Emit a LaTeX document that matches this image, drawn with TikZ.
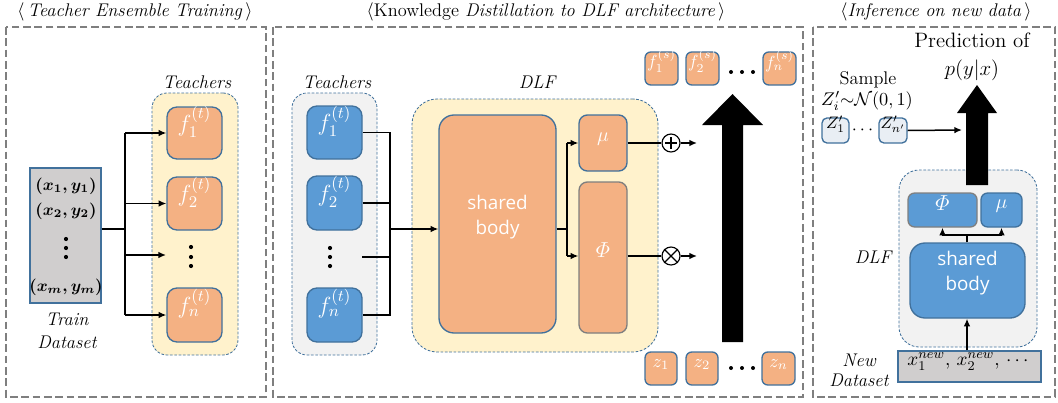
\RequirePackage{fix-cm}
\documentclass[tikz,border=0pt]{standalone}
\usepackage{amsmath}
\usepackage{fontspec}
\newfontfamily\sbfont{Open Sans}
\usetikzlibrary{arrows.meta,fit,calc}

\definecolor{boxorange}{HTML}{F4B183}
\definecolor{boxblue}{HTML}{5B9BD5}
\definecolor{edgeblue}{HTML}{41719C}
\definecolor{edgegray}{HTML}{7F7F7F}
\definecolor{groupyellow}{HTML}{FFF2CC}
\definecolor{groupgray}{HTML}{F2F2F2}
\definecolor{datagray}{HTML}{D0CECE}
\definecolor{panelgray}{HTML}{7F7F7F}
\definecolor{zfill}{HTML}{E9EEF4}

% lower a math label a little inside its box
\newcommand{\lowered}[2]{\raisebox{-#1}{#2}}

\begin{document}
\begin{tikzpicture}[x=0.6pt,y=-0.6pt,
  panel/.style={draw=panelgray, line width=1.4pt, dash pattern=on 4.6pt off 2.2pt},
  group/.style={draw=edgeblue, line width=0.5pt, dash pattern=on 1.6pt off 1pt,
                rounded corners=9pt, inner sep=0pt},
  basebox/.style={draw=edgeblue, line width=0.8pt, inner sep=0pt, text=white},
  obox/.style={basebox, fill=boxorange, rounded corners=6pt},
  bbox/.style={basebox, fill=boxblue, rounded corners=6pt},
  sbox/.style={basebox, fill=boxorange, rounded corners=3.5pt},
  title/.style={font=\fontsize{11}{13}\selectfont, inner sep=0pt},
  lbl/.style={font=\itshape\fontsize{11}{13}\selectfont, align=center},
  fbig/.style={font=\fontsize{14}{16}\selectfont},
  fsmall/.style={font=\fontsize{10.5}{12}\selectfont},
  body/.style={font=\sbfont\fontsize{11.3}{15}\selectfont, align=center},
  link/.style={line width=0.9pt},
  arr/.style={link, -{Latex[length=4.6pt,width=4pt]}},
  opcirc/.style={circle, draw, line width=0.7pt, minimum size=10.8pt, inner sep=0pt, fill=white}
]
\useasboundingbox (0,0) rectangle (1058,402);

% ---------- panel frames and titles ----------
\draw[panel] (6,27) rectangle (266,397);
\draw[panel] (273,27) rectangle (803,397);
\draw[panel] (813,27) rectangle (1055,397);

\node[title] (title1) at (135,12) {$\langle$\,\textit{Teacher Ensemble Training}\,$\rangle$};
\node[title] (title2) at (546,12) {$\langle$Knowledge \textit{Distillation to DLF architecture}\,$\rangle$};
\node[title] (title3) at (936,12) {$\langle$\textit{Inference on new data}\,$\rangle$};

% ---------- panel 1: teacher ensemble training ----------
\node[draw=edgeblue, fill=datagray, line width=0.8pt, inner sep=0pt, fit={(30,168)(101,303)}] (ds) {};
\node[font=\fontsize{10}{12}\selectfont\boldmath] (row1) at (66,186) {$(x_1,y_1)$};
\node[font=\fontsize{10}{12}\selectfont\boldmath] (row2) at (66,211) {$(x_2,y_2)$};
\node[font=\fontsize{10}{12}\selectfont\boldmath] (rowm) at (66,287) {$(x_m,y_m)$};
\foreach \yy in {239,248,257} \fill (66,\yy) circle (2.1);
\node[lbl, font=\itshape\fontsize{11}{13.5}\selectfont] (trainlbl) at (67,331) {Train\\Dataset};

\node[group, fill=groupyellow, fit={(152,93)(238,355)}] (grp1) {};
\node[lbl] (teach1) at (197,82) {Teachers};
\node[obox, fbig, fit={(167,107)(222,159)}] (a1) {\lowered{1.5pt}{$f_1^{(t)}$}};
\node[obox, fbig, fit={(167,177)(222,230)}] (a2) {\lowered{1.5pt}{$f_2^{(t)}$}};
\node[obox, fbig, fit={(167,288)(222,342)}] (an) {\lowered{1.5pt}{$f_n^{(t)}$}};
\foreach \yy in {247,257,266} \fill (191,\yy) circle (2.1);

\coordinate (j1) at (125,229);
\coordinate (adots) at (166,255);
\draw[link] (ds.east |- j1) -- (j1);
\draw[link] (j1 |- a1.west) -- (j1 |- an.west);
\draw[arr] (j1 |- a1.west) -- (a1.west);
\draw[arr] (j1 |- a2.west) -- (a2.west);
\draw[arr] (j1 |- adots) -- (adots);
\draw[arr] (j1 |- an.west) -- (an.west);

% ---------- panel 2: distillation into the DLF ----------
\node[group, fill=groupgray, fit={(292,93)(377,355)}] (grp2) {};
\node[lbl] (teach2) at (337,82) {Teachers};
\node[bbox, fbig, fit={(307,106)(362,159)}] (b1) {\lowered{1.5pt}{$f_1^{(t)}$}};
\node[bbox, fbig, fit={(307,176)(362,230)}] (b2) {\lowered{1.5pt}{$f_2^{(t)}$}};
\node[bbox, fbig, fit={(307,288)(362,342)}] (bn) {\lowered{1.5pt}{$f_n^{(t)}$}};
\foreach \yy in {248,257,266} \fill (330,\yy) circle (2.1);

\node[group, fill=groupyellow, rounded corners=15pt, fit={(412,99)(658,352)}] (dlf) {};
\node[lbl] (dlflbl) at (537,82) {DLF};
\node[obox, body, rounded corners=9pt, fit={(439,115)(556,333)}] (sb) {shared\\body};
\node[obox, font=\fontsize{12}{14}\selectfont, rounded corners=5pt, fit={(579,115)(627,171)}] (mu) {$\mu$};
\node[obox, draw=edgegray, font=\fontsize{13}{15}\selectfont, rounded corners=5pt, fit={(579,182)(627,333)}] (phi) {$\varPhi$};

\coordinate (j2) at (390,229);
\coordinate (bdots) at (362,257);
\draw[link] (b1.east) -- (b1.east -| j2) -- (bn.east -| j2) -- (bn.east);
\draw[link] (b2.east) -- (b2.east -| j2);
\draw[link] (bdots) -- (bdots -| j2);
\draw[arr] (j2) -- (j2 -| sb.west);

\coordinate (j3) at (567,229);
\draw[link] (sb.east |- j3) -- (j3);
\draw[link] (j3 |- mu.west) -- (j3 |- 0,256);
\draw[arr] (j3 |- mu.west) -- (mu.west);
\draw[arr] (j3 |- 0,256) -- (phi.west |- 0,256);

\node[opcirc] (plus) at (671,143) {};
\draw[line width=0.7pt] ($(plus.north)!0.2!(plus.south)$) -- ($(plus.north)!0.8!(plus.south)$);
\draw[line width=0.7pt] ($(plus.west)!0.2!(plus.east)$) -- ($(plus.west)!0.8!(plus.east)$);
\node[opcirc] (times) at (671,256) {};
\draw[line width=0.7pt] (times.north east) -- (times.south west);
\draw[line width=0.7pt] (times.north west) -- (times.south east);

\coordinate (pout) at (697,143);
\coordinate (tout) at (697,256);
\draw[link] (mu.east) -- (plus.west);
\draw[link] (phi.east |- times.west) -- (times.west);
\draw[arr] (plus.east) -- (pout);
\draw[arr] (times.east) -- (tout);

% big upward arrow from the latent samples to the students
\fill (722,342) -- (722,125) -- (702,125) -- (732.5,94) -- (763,125) -- (743,125) -- (743,342) -- cycle;

\node[sbox, fsmall, fit={(645,52)(678,85)}] (s1) {\lowered{2pt}{$f_1^{(s)}$}};
\node[sbox, fsmall, fit={(686,52)(719,85)}] (s2) {\lowered{2pt}{$f_2^{(s)}$}};
\node[sbox, fsmall, fit={(763,52)(796,85)}] (sn) {\lowered{2pt}{$f_n^{(s)}$}};
\foreach \xx in {731,742,753} \fill (\xx,72) circle (2);

\node[sbox, font=\fontsize{11}{13}\selectfont, fit={(645,352)(677,385)}] (z1) {$z_1$};
\node[sbox, font=\fontsize{11}{13}\selectfont, fit={(686,352)(718,385)}] (z2) {$z_2$};
\node[sbox, font=\fontsize{11}{13}\selectfont, fit={(762,352)(795,385)}] (zn) {$z_n$};
\foreach \xx in {731,742,753} \fill (\xx,368) circle (2);

% ---------- panel 3: inference ----------
\node[font=\fontsize{12.5}{17}\selectfont, align=center] (pred) at (972,57) {Prediction of\\$p(y|x)$};
\node[font=\fontsize{11}{13}\selectfont] (samp) at (868,80) {Sample};
\node[font=\fontsize{11}{13}\selectfont] (samp2) at (867,101) {$Z'_i{\sim}\mathcal{N}(0,1)$};
\node[basebox, fill=zfill, text=black, rounded corners=3pt, font=\fontsize{10}{12}\selectfont, fit={(822,118)(849,143)}] (zp1) {$Z'_1$};
\node[font=\fontsize{11}{13}\selectfont] (zpdots) at (864,130) {$\cdots$};
\node[basebox, fill=zfill, text=black, rounded corners=3pt, font=\fontsize{10}{12}\selectfont, fit={(879,118)(907,143)}] (zpn) {$Z'_{n'}$};
\coordinate (zout) at (962,130);
\draw[arr] (zpn.east) -- (zout);

\node[group, fill=groupgray, rounded corners=12pt, fit={(899,170)(1037,347)}] (dlf2) {};
\node[lbl] (dlflbl2) at (873,257) {DLF};

% big upward arrow towards the prediction
\fill (966,185) -- (966,113) -- (957,113) -- (977,85) -- (997,113) -- (988,113) -- (988,185) -- cycle;

\node[bbox, draw=edgegray, font=\fontsize{13}{15}\selectfont, rounded corners=4pt, fit={(908,193)(977,227)}] (phi2) {$\varPhi$};
\node[bbox, font=\fontsize{12}{14}\selectfont, rounded corners=4pt, fit={(981,193)(1022,227)}] (mu2) {$\mu$};
\node[bbox, body, rounded corners=9pt, fit={(910,243)(1025,318)}] (sb2) {shared\\body};

\node[draw=edgeblue, fill=datagray, line width=0.8pt, inner sep=0pt, font=\fontsize{11.5}{14}\selectfont, fit={(898,351)(1041,382)}] (nd) {\lowered{2pt}{$x_1^{new},\,x_2^{new},\,\cdots$}};
\node[lbl, font=\itshape\fontsize{11}{12}\selectfont] (newlbl) at (859,370) {New\\Dataset};

\coordinate (j4) at (967,235);
\draw[arr] (nd.north -| j4) -- (sb2.south -| j4);
\draw[link] (sb2.north -| j4) -- (j4);
\draw[link] (j4 -| phi2.south) -- (j4 -| mu2.south);
\draw[arr] (j4 -| phi2.south) -- (phi2.south);
\draw[arr] (j4 -| mu2.south) -- (mu2.south);
\end{tikzpicture}
\end{document}
